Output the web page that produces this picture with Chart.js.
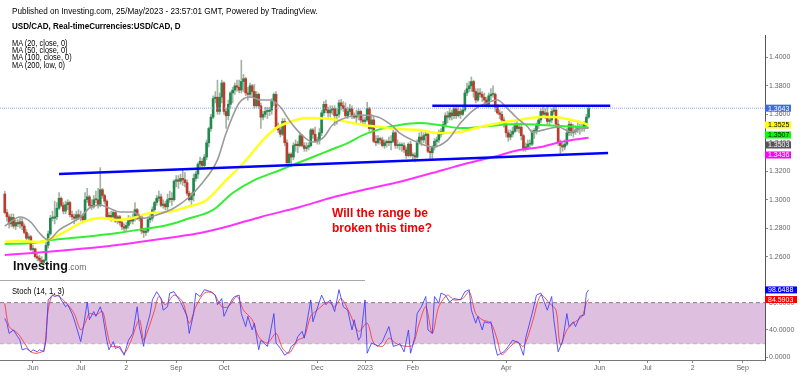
<!DOCTYPE html>
<html>
<head>
<meta charset="utf-8">
<script src="https://cdn.jsdelivr.net/npm/chart.js@4.4.1/dist/chart.umd.min.js"></script>
<style>
html,body{margin:0;padding:0;background:#fff;}
body{width:800px;height:376px;position:relative;overflow:hidden;font-family:"Liberation Sans",Arial,Helvetica,sans-serif;}
.t{position:absolute;white-space:nowrap;transform-origin:0 0;color:#000;}
canvas{position:absolute;left:0;}
</style>
</head>
<body>
<canvas id="priceChart" width="800" height="281" style="top:0"></canvas>
<canvas id="stochChart" width="800" height="95" style="top:281px"></canvas>
<div style="position:absolute;left:0;top:280px;width:365px;height:1px;background:#a8a8a8"></div>
<div class="t" style="left:12px;top:5px;font-size:9.5px;line-height:11px;transform:scaleX(0.857)">Published on Investing.com, 25/May/2023 - 23:57:01 GMT, Powered by TradingView.</div>
<div class="t" style="left:12px;top:19.5px;font-size:9.5px;line-height:11px;font-weight:bold;transform:scaleX(0.845)">USD/CAD, Real-timeCurrencies:USD/CAD, D</div>
<div class="t" style="left:12px;top:39.5px;font-size:8.5px;line-height:7.4px;transform:scaleX(0.87)">MA (20, close, 0)<br>MA (50, close, 0)<br>MA (100, close, 0)<br>MA (200, low, 0)</div>
<div class="t" style="left:13px;top:257px;line-height:16px"><span style="font-size:12.5px;font-weight:bold;color:#111">Investing</span><span style="font-size:8.5px;color:#666">.com</span></div>
<div class="t" style="left:332px;top:206px;font-size:12px;line-height:15px;font-weight:bold;color:#f00000">Will the range be<br>broken this time?</div>
<div class="t" style="left:12px;top:285.5px;font-size:9px;line-height:10px;transform:scaleX(0.85)">Stoch (14, 1, 3)</div>
<script>
// ---------- data (bar index 0 = 13 May 2022 ... 269 = 25 May 2023, trading days) ----------
const opens = [
1.3040,1.2910,1.2880,1.2830,1.2875,1.2815,1.2840,1.2830,1.2845,1.2815,
1.2770,1.2730,1.2740,1.2650,1.2655,1.2600,1.2590,1.2575,1.2560,1.2575,
1.2680,1.2760,1.2870,1.2870,1.2880,1.2940,1.3010,1.2960,1.2920,1.2965,
1.2980,1.2895,1.2880,1.2870,1.2895,1.2875,1.2885,1.2860,1.3000,1.3020,
1.2960,1.2950,1.3000,1.3000,1.2960,1.3070,1.3030,1.2990,1.2880,1.2890,
1.2880,1.2910,1.2850,1.2880,1.2840,1.2810,1.2800,1.2820,1.2860,1.2850,
1.2870,1.2930,1.2870,1.2880,1.2780,1.2770,1.2780,1.2860,1.2870,1.2930,
1.2980,1.3010,1.3020,1.2960,1.2970,1.2950,1.3000,1.3010,1.3000,1.3130,
1.3140,1.3130,1.3150,1.3140,1.3120,1.3045,1.3000,1.3030,1.3150,1.3180,
1.3250,1.3270,1.3240,1.3300,1.3400,1.3500,1.3580,1.3710,1.3720,1.3620,
1.3720,1.3820,1.3620,1.3590,1.3670,1.3750,1.3770,1.3800,1.3790,1.3770,
1.3830,1.3850,1.3750,1.3740,1.3800,1.3760,1.3660,1.3740,1.3660,1.3580,
1.3600,1.3620,1.3620,1.3630,1.3690,1.3740,1.3510,1.3490,1.3460,1.3550,
1.3400,1.3260,1.3320,1.3300,1.3380,1.3390,1.3380,1.3450,1.3380,1.3360,
1.3370,1.3380,1.3490,1.3460,1.3410,1.3420,1.3470,1.3610,1.3670,1.3630,
1.3610,1.3630,1.3640,1.3590,1.3600,1.3680,1.3660,1.3640,1.3590,1.3620,
1.3640,1.3590,1.3580,1.3590,1.3620,1.3560,1.3550,1.3560,1.3640,1.3500,
1.3560,1.3410,1.3400,1.3430,1.3420,1.3380,1.3400,1.3410,1.3400,1.3410,
1.3470,1.3380,1.3380,1.3380,1.3380,1.3350,1.3310,1.3390,1.3310,1.3310,
1.3300,1.3400,1.3440,1.3420,1.3450,1.3460,1.3340,1.3330,1.3370,1.3410,
1.3420,1.3460,1.3480,1.3530,1.3590,1.3580,1.3610,1.3590,1.3640,1.3590,
1.3620,1.3600,1.3630,1.3750,1.3780,1.3800,1.3830,1.3760,1.3700,1.3750,
1.3740,1.3720,1.3700,1.3670,1.3730,1.3740,1.3740,1.3650,1.3610,1.3600,
1.3560,1.3530,1.3470,1.3440,1.3460,1.3480,1.3520,1.3500,1.3510,1.3450,
1.3360,1.3370,1.3390,1.3390,1.3480,1.3480,1.3520,1.3560,1.3620,1.3600,
1.3610,1.3550,1.3560,1.3620,1.3630,1.3530,1.3400,1.3380,1.3370,1.3390,
1.3470,1.3530,1.3470,1.3480,1.3490,1.3510,1.3500,1.3510,1.3530,1.3580];
const highs = [
1.3060,1.2930,1.2895,1.2900,1.2900,1.2860,1.2860,1.2870,1.2870,1.2830,
1.2790,1.2760,1.2750,1.2680,1.2660,1.2620,1.2610,1.2600,1.2580,1.2700,
1.2780,1.2890,1.2920,1.2990,1.2980,1.3050,1.3020,1.2980,1.2990,1.3000,
1.2990,1.2920,1.2900,1.2920,1.2930,1.2920,1.2900,1.3050,1.3080,1.3030,
1.3000,1.3030,1.3060,1.3080,1.3225,1.3080,1.3040,1.3000,1.2910,1.2920,
1.2930,1.2920,1.2890,1.2890,1.2860,1.2830,1.2840,1.2890,1.2880,1.2900,
1.2980,1.2940,1.2900,1.2890,1.2800,1.2800,1.2880,1.2900,1.2950,1.2990,
1.3030,1.3060,1.3040,1.3000,1.2990,1.3040,1.3060,1.3050,1.3140,1.3170,
1.3170,1.3180,1.3210,1.3190,1.3140,1.3060,1.3050,1.3180,1.3200,1.3260,
1.3300,1.3290,1.3320,1.3420,1.3510,1.3600,1.3730,1.3760,1.3840,1.3750,
1.3840,1.3830,1.3640,1.3700,1.3760,1.3790,1.3820,1.3840,1.3840,1.3980,
1.3880,1.3860,1.3790,1.3820,1.3810,1.3810,1.3760,1.3750,1.3680,1.3620,
1.3650,1.3650,1.3650,1.3710,1.3750,1.3760,1.3540,1.3520,1.3570,1.3570,
1.3420,1.3330,1.3330,1.3400,1.3420,1.3410,1.3470,1.3460,1.3400,1.3400,
1.3400,1.3500,1.3500,1.3510,1.3440,1.3500,1.3630,1.3690,1.3700,1.3650,
1.3660,1.3660,1.3660,1.3640,1.3700,1.3705,1.3690,1.3680,1.3650,1.3670,
1.3660,1.3610,1.3630,1.3640,1.3630,1.3590,1.3580,1.3685,1.3650,1.3600,
1.3590,1.3450,1.3450,1.3440,1.3440,1.3420,1.3420,1.3440,1.3450,1.3490,
1.3480,1.3420,1.3400,1.3400,1.3400,1.3370,1.3400,1.3410,1.3330,1.3330,
1.3420,1.3470,1.3480,1.3470,1.3480,1.3470,1.3360,1.3380,1.3430,1.3440,
1.3490,1.3500,1.3550,1.3610,1.3620,1.3640,1.3630,1.3660,1.3650,1.3650,
1.3640,1.3650,1.3770,1.3820,1.3830,1.3862,1.3840,1.3780,1.3780,1.3780,
1.3760,1.3750,1.3720,1.3750,1.3780,1.3800,1.3750,1.3670,1.3630,1.3620,
1.3580,1.3540,1.3490,1.3490,1.3510,1.3540,1.3550,1.3530,1.3540,1.3460,
1.3400,1.3420,1.3420,1.3490,1.3500,1.3540,1.3580,1.3640,1.3660,1.3640,
1.3660,1.3580,1.3640,1.3660,1.3650,1.3560,1.3420,1.3400,1.3420,1.3500,
1.3550,1.3540,1.3530,1.3520,1.3540,1.3530,1.3530,1.3550,1.3600,1.3660];
const lows = [
1.2900,1.2850,1.2800,1.2810,1.2800,1.2790,1.2810,1.2800,1.2790,1.2760,
1.2720,1.2700,1.2640,1.2620,1.2590,1.2570,1.2560,1.2550,1.2540,1.2570,
1.2660,1.2750,1.2850,1.2830,1.2860,1.2930,1.2950,1.2900,1.2900,1.2930,
1.2880,1.2860,1.2830,1.2850,1.2860,1.2850,1.2840,1.2850,1.2980,1.2950,
1.2930,1.2940,1.2980,1.2940,1.2950,1.3010,1.2970,1.2870,1.2860,1.2850,
1.2860,1.2840,1.2830,1.2820,1.2790,1.2780,1.2780,1.2800,1.2830,1.2830,
1.2850,1.2860,1.2850,1.2760,1.2735,1.2750,1.2770,1.2840,1.2850,1.2910,
1.2960,1.2990,1.2950,1.2940,1.2930,1.2930,1.2980,1.2960,1.2990,1.3090,
1.3080,1.3110,1.3100,1.3090,1.3030,1.2990,1.2960,1.2990,1.3130,1.3150,
1.3220,1.3220,1.3230,1.3280,1.3370,1.3480,1.3570,1.3680,1.3600,1.3600,
1.3680,1.3600,1.3500,1.3560,1.3640,1.3680,1.3740,1.3760,1.3750,1.3750,
1.3760,1.3730,1.3700,1.3720,1.3720,1.3640,1.3650,1.3640,1.3500,1.3560,
1.3580,1.3570,1.3590,1.3600,1.3660,1.3500,1.3470,1.3440,1.3450,1.3380,
1.3240,1.3250,1.3230,1.3280,1.3340,1.3330,1.3370,1.3370,1.3340,1.3340,
1.3350,1.3370,1.3430,1.3400,1.3390,1.3390,1.3450,1.3590,1.3610,1.3580,
1.3580,1.3600,1.3520,1.3530,1.3580,1.3630,1.3620,1.3580,1.3570,1.3600,
1.3570,1.3570,1.3540,1.3560,1.3540,1.3520,1.3530,1.3550,1.3480,1.3490,
1.3400,1.3380,1.3390,1.3390,1.3370,1.3360,1.3370,1.3380,1.3350,1.3400,
1.3360,1.3360,1.3350,1.3340,1.3330,1.3290,1.3300,1.3300,1.3280,1.3265,
1.3290,1.3390,1.3380,1.3400,1.3390,1.3330,1.3280,1.3290,1.3350,1.3370,
1.3400,1.3440,1.3460,1.3510,1.3540,1.3560,1.3560,1.3570,1.3570,1.3580,
1.3570,1.3590,1.3620,1.3730,1.3760,1.3760,1.3720,1.3680,1.3690,1.3720,
1.3690,1.3680,1.3650,1.3650,1.3700,1.3720,1.3620,1.3600,1.3570,1.3540,
1.3510,1.3440,1.3410,1.3420,1.3440,1.3470,1.3480,1.3470,1.3420,1.3340,
1.3340,1.3350,1.3360,1.3380,1.3430,1.3460,1.3500,1.3540,1.3590,1.3570,
1.3520,1.3520,1.3540,1.3600,1.3510,1.3380,1.3320,1.3340,1.3350,1.3380,
1.3450,1.3450,1.3440,1.3460,1.3470,1.3460,1.3480,1.3480,1.3510,1.3570];
const closes = [
1.2910,1.2880,1.2830,1.2875,1.2815,1.2840,1.2830,1.2845,1.2815,1.2770,
1.2730,1.2740,1.2650,1.2655,1.2600,1.2590,1.2575,1.2560,1.2575,1.2680,
1.2760,1.2870,1.2870,1.2880,1.2940,1.3010,1.2960,1.2920,1.2965,1.2980,
1.2895,1.2880,1.2870,1.2895,1.2875,1.2885,1.2860,1.3000,1.3020,1.2960,
1.2950,1.3000,1.3000,1.2960,1.3070,1.3030,1.2990,1.2880,1.2890,1.2880,
1.2910,1.2850,1.2880,1.2840,1.2810,1.2800,1.2820,1.2860,1.2850,1.2870,
1.2930,1.2870,1.2880,1.2780,1.2770,1.2780,1.2860,1.2870,1.2930,1.2980,
1.3010,1.3020,1.2960,1.2970,1.2950,1.3000,1.3010,1.3000,1.3130,1.3140,
1.3130,1.3150,1.3140,1.3120,1.3045,1.3000,1.3030,1.3150,1.3180,1.3250,
1.3270,1.3240,1.3300,1.3400,1.3500,1.3580,1.3710,1.3720,1.3620,1.3720,
1.3820,1.3620,1.3590,1.3670,1.3750,1.3770,1.3800,1.3790,1.3770,1.3830,
1.3850,1.3750,1.3740,1.3800,1.3760,1.3660,1.3740,1.3660,1.3580,1.3600,
1.3620,1.3620,1.3630,1.3690,1.3740,1.3510,1.3490,1.3460,1.3550,1.3400,
1.3260,1.3320,1.3300,1.3380,1.3390,1.3380,1.3450,1.3380,1.3360,1.3370,
1.3380,1.3490,1.3460,1.3410,1.3420,1.3470,1.3610,1.3670,1.3630,1.3610,
1.3630,1.3640,1.3590,1.3600,1.3680,1.3660,1.3640,1.3590,1.3620,1.3640,
1.3590,1.3580,1.3590,1.3620,1.3560,1.3550,1.3560,1.3640,1.3500,1.3560,
1.3410,1.3400,1.3430,1.3420,1.3380,1.3400,1.3410,1.3400,1.3410,1.3470,
1.3380,1.3380,1.3380,1.3380,1.3350,1.3310,1.3390,1.3310,1.3310,1.3300,
1.3400,1.3440,1.3420,1.3450,1.3460,1.3340,1.3330,1.3370,1.3410,1.3420,
1.3460,1.3480,1.3530,1.3590,1.3580,1.3610,1.3590,1.3640,1.3590,1.3620,
1.3600,1.3630,1.3750,1.3780,1.3800,1.3830,1.3760,1.3700,1.3750,1.3740,
1.3720,1.3700,1.3670,1.3730,1.3740,1.3740,1.3650,1.3610,1.3600,1.3560,
1.3530,1.3470,1.3440,1.3460,1.3480,1.3520,1.3500,1.3510,1.3450,1.3360,
1.3370,1.3390,1.3390,1.3480,1.3480,1.3520,1.3560,1.3620,1.3600,1.3610,
1.3550,1.3560,1.3620,1.3630,1.3530,1.3400,1.3380,1.3370,1.3390,1.3470,
1.3530,1.3470,1.3480,1.3490,1.3510,1.3500,1.3510,1.3530,1.3580,1.3643];

// moving averages (bar index, value)
const ma20Bars = [0,7,12,16,20,25,35,39,44,48,53,59,64,70,78,85,91,98,102,108,113,118,122,127,131,136,142,147,151,158,164,172,178,182,191,197,204,210,216,222,227,231,236,241,243,248,255,261,265,269];
const ma20Vals = [1.2815,1.2879,1.2843,1.2766,1.2717,1.2787,1.2879,1.2942,1.2963,1.2942,1.2914,1.2914,1.2871,1.2893,1.2942,1.3019,1.3117,1.3280,1.3468,1.3679,1.3721,1.3700,1.3700,1.3651,1.3560,1.3468,1.3405,1.3440,1.3525,1.3581,1.3595,1.3581,1.3525,1.3468,1.3398,1.3370,1.3419,1.3539,1.3630,1.3679,1.3700,1.3651,1.3574,1.3511,1.3475,1.3489,1.3511,1.3475,1.3500,1.3503];
const ma50Bars = [0,7,16,22,29,36,44,52,59,67,75,84,93,102,110,119,125,131,139,150,158,165,173,182,191,200,210,219,228,237,247,253,259,265,269];
const ma50Vals = [1.2703,1.2710,1.2703,1.2731,1.2787,1.2843,1.2871,1.2857,1.2871,1.2907,1.2914,1.2949,1.2998,1.3138,1.3258,1.3419,1.3503,1.3545,1.3574,1.3567,1.3546,1.3525,1.3511,1.3496,1.3489,1.3468,1.3475,1.3511,1.3539,1.3560,1.3581,1.3581,1.3567,1.3546,1.3525];
const ma100Bars = [0,13,21,36,52,64,75,84,96,105,115,127,135,142,150,158,165,173,182,191,200,210,219,228,237,247,256,269];
const ma100Vals = [1.2689,1.2696,1.2717,1.2738,1.2766,1.2794,1.2822,1.2864,1.2928,1.3047,1.3138,1.3209,1.3258,1.3300,1.3349,1.3398,1.3454,1.3496,1.3525,1.3538,1.3525,1.3503,1.3511,1.3525,1.3532,1.3525,1.3518,1.3507];
const ma200Bars = [0,13,29,44,59,75,90,105,118,136,150,165,183,202,213,225,237,247,256,269];
const ma200Vals = [1.2612,1.2626,1.2647,1.2668,1.2696,1.2731,1.2766,1.2822,1.2879,1.2949,1.3012,1.3068,1.3130,1.3209,1.3256,1.3300,1.3349,1.3370,1.3405,1.3436];

// drawn trend lines (bar index, price)
const supportBars = [25, 278];
const supportPrices = [1.3180, 1.3328];
const resistBars = [197, 279];
const resistPrices = [1.3660, 1.3660];
const lastPrice = 1.3643;

// Stochastic (14,1,3)
const kBars = [0,1,2,4,6,7,8,10,12,13,15,16,18,19,20,22,23,25,26,28,29,31,32,35,36,38,39,41,42,44,45,47,48,50,51,53,55,57,59,61,62,64,65,67,68,70,72,73,75,76,78,79,81,82,84,85,87,88,90,92,95,97,98,100,101,103,105,106,108,109,111,112,114,115,117,118,121,122,124,125,127,129,131,132,134,135,137,138,141,142,144,146,148,150,152,154,156,158,160,161,163,164,166,167,169,171,172,174,177,179,181,182,184,186,187,189,190,192,194,195,197,198,200,201,203,205,207,210,212,214,215,217,218,220,221,223,224,226,227,230,232,234,237,239,240,243,245,247,250,252,253,255,257,259,260,262,263,265,267,268,269];
const kVals = [57,50,35,40,30,25,11,13,8,11,8,11,8,25,84,91,89,91,84,74,77,64,55,23,40,81,55,67,60,74,64,25,11,23,13,16,3,25,35,74,45,16,40,64,84,96,86,69,74,94,96,91,81,74,60,35,64,94,89,99,96,91,77,86,60,74,86,89,91,64,45,60,40,50,11,25,16,30,64,21,13,3,8,16,21,30,38,28,84,52,72,91,77,84,67,99,74,69,40,55,25,30,84,6,21,18,16,23,45,16,18,20,8,40,6,30,64,74,89,40,35,89,79,94,91,81,86,84,96,99,69,50,60,40,52,50,52,16,3,8,16,25,21,3,28,64,91,94,69,89,55,8,23,64,45,52,45,60,62,94,98.6488];
const dBars = [0,2,6,9,12,15,18,20,22,25,29,32,35,37,39,42,45,47,49,52,55,58,62,64,66,69,71,74,78,82,85,88,92,96,100,103,107,110,114,117,121,125,128,131,135,138,141,145,149,152,155,159,163,167,170,174,177,180,182,185,188,191,194,197,200,204,207,211,214,217,220,224,227,229,233,236,239,243,247,251,254,256,259,262,266,268,269];
const dVals = [79,45,35,21,8,6,11,69,91,89,77,64,40,50,64,62,67,40,16,16,6,23,55,25,40,69,89,77,91,81,50,74,94,94,74,74,89,69,55,30,21,35,13,6,25,30,60,72,81,74,86,64,38,50,21,16,28,21,18,16,18,50,74,35,74,91,84,86,96,64,55,50,25,4,16,23,16,50,91,79,69,18,40,50,60,80,84.5903];
const stochBand = [20, 80];

// axes
const xTickBars = [13,35,56,79,101,144,166,188,231,274,296,317,340];
const xTickLabels = ['Jun','Jul','2','Sep','Oct','Dec','2023','Feb','Apr','Jun','Jul','2','Sep'];
const priceTicks = [1.26,1.28,1.30,1.32,1.34,1.36,1.38,1.40];
const stochTicks = [0,40,80];

// last-value badges
const priceBadgeVals = [1.3643, 1.3525, 1.3507, 1.3503, 1.3436];
const priceBadgeBg = ['#4169e1','#ffff00','#00ff00','#555555','#ff00ff'];
const priceBadgeFg = ['#ffffff','#000000','#000000','#ffffff','#ffffff'];
const stochBadgeVals = [98.6488, 84.5903];
const stochBadgeBg = ['#0000ff','#ff0000'];

// ---------- view ranges ----------
const X_MIN = -2.2, X_MAX = 350.3;
const P_MIN = 1.2429, P_MAX = 1.4157;
const S_MIN = -3.95, S_MAX = 111.7;

Chart.defaults.font.family = '"Liberation Sans", Arial, sans-serif';
Chart.defaults.color = '#666';

const pts = (xs, ys) => xs.map((x, i) => ({x, y: ys[i]}));
const upCol = '#1f8a4c', dnCol = '#c0392b';

const badgePlugin = {
  id: 'badges',
  afterDraw(chart, args, o) {
    const {ctx, chartArea} = chart;
    const sc = chart.scales.y;
    let prevBottom = -1e9;
    ctx.save();
    ctx.font = '7px "Liberation Sans", Arial, sans-serif';
    ctx.textBaseline = 'middle';
    ctx.textAlign = 'left';
    o.vals.forEach((v, i) => {
      let cy = sc.getPixelForValue(v);
      const h = o.h;
      if (cy - h / 2 < prevBottom + o.gap) cy = prevBottom + o.gap + h / 2;
      prevBottom = cy + h / 2;
      ctx.fillStyle = o.bg[i];
      ctx.fillRect(chartArea.right, cy - h / 2, o.w, h);
      ctx.fillStyle = o.fg[i];
      ctx.fillText(v.toFixed(4), chartArea.right + 3, cy + 0.5);
    });
    ctx.restore();
  }
};

new Chart(document.getElementById('priceChart'), {
  type: 'bar',
  data: {
    datasets: [
      { type: 'line', label: 'support', data: pts(supportBars, supportPrices), borderColor: '#0000ff', borderWidth: 2.5, pointRadius: 0, order: 1 },
      { type: 'line', label: 'resistance', data: pts(resistBars, resistPrices), borderColor: '#0000ff', borderWidth: 2.5, pointRadius: 0, order: 1 },
      { type: 'line', label: 'MA20', data: pts(ma20Bars, ma20Vals), borderColor: '#9a9a9a', borderWidth: 1.6, pointRadius: 0, cubicInterpolationMode: 'monotone', order: 2 },
      { type: 'line', label: 'MA50', data: pts(ma50Bars, ma50Vals), borderColor: '#ffff20', borderWidth: 2.5, pointRadius: 0, cubicInterpolationMode: 'monotone', order: 2 },
      { type: 'line', label: 'MA100', data: pts(ma100Bars, ma100Vals), borderColor: '#33ee33', borderWidth: 2, pointRadius: 0, cubicInterpolationMode: 'monotone', order: 2 },
      { type: 'line', label: 'MA200', data: pts(ma200Bars, ma200Vals), borderColor: '#ff33ff', borderWidth: 2, pointRadius: 0, cubicInterpolationMode: 'monotone', order: 2 },
      { type: 'line', label: 'last', data: [{x: X_MIN, y: lastPrice}, {x: X_MAX, y: lastPrice}], borderColor: '#8fa6ee', borderWidth: 1, borderDash: [1, 1], pointRadius: 0, order: 3 },
      { type: 'bar', label: 'bodies', data: opens.map((o, i) => ({x: i, y: [o, closes[i]]})),
        backgroundColor: opens.map((o, i) => closes[i] >= o ? upCol : dnCol),
        barThickness: 2, minBarLength: 1, grouped: false, order: 4 },
      { type: 'bar', label: 'wicks', data: lows.map((l, i) => ({x: i, y: [l, highs[i]]})),
        backgroundColor: '#a3b3a3', barThickness: 1, grouped: false, order: 5 }
    ]
  },
  options: {
    responsive: false, animation: false, events: [],
    layout: { padding: { top: 35, bottom: 0, left: 0, right: 0 } },
    plugins: { legend: { display: false }, tooltip: { enabled: false },
      badges: { vals: priceBadgeVals, bg: priceBadgeBg, fg: priceBadgeFg, h: 7, gap: 3, w: 26 } },
    scales: {
      x: { type: 'linear', min: X_MIN, max: X_MAX, offset: false, display: false },
      y: { position: 'right', min: P_MIN, max: P_MAX,
        afterBuildTicks: s => { s.ticks = priceTicks.map(v => ({value: v})); },
        afterFit: s => { s.width = 35; s.paddingTop = 0; s.paddingBottom = 0; },
        ticks: { font: { size: 7 }, color: '#666', padding: 1, callback: v => Number(v).toFixed(4) },
        grid: { drawOnChartArea: false, drawTicks: true, tickLength: 3, color: '#888' },
        border: { display: true, color: '#555', width: 1 } }
    }
  },
  plugins: [badgePlugin]
});

new Chart(document.getElementById('stochChart'), {
  type: 'line',
  data: {
    datasets: [
      { label: 'band80', data: [{x: X_MIN, y: stochBand[1]}, {x: X_MAX, y: stochBand[1]}], borderColor: '#8a7a8a', borderWidth: 1, borderDash: [4, 3], pointRadius: 0, fill: '+1', backgroundColor: '#dfbfdf', order: 3 },
      { label: 'band20', data: [{x: X_MIN, y: stochBand[0]}, {x: X_MAX, y: stochBand[0]}], borderColor: '#8a7a8a', borderWidth: 1, borderDash: [4, 3], pointRadius: 0, fill: false, order: 3 },
      { label: '%D', data: pts(dBars, dVals), borderColor: 'rgba(255,60,60,0.9)', borderWidth: 1, pointRadius: 0, tension: 0.3, fill: false, order: 2 },
      { label: '%K', data: pts(kBars, kVals), borderColor: 'rgba(60,60,255,0.85)', borderWidth: 1, pointRadius: 0, tension: 0, fill: false, order: 1 }
    ]
  },
  options: {
    responsive: false, animation: false, events: [],
    layout: { padding: 0 },
    plugins: { legend: { display: false }, tooltip: { enabled: false },
      badges: { vals: stochBadgeVals, bg: stochBadgeBg, fg: ['#ffffff','#ffffff'], h: 7, gap: 1, w: 32 } },
    scales: {
      x: { type: 'linear', min: X_MIN, max: X_MAX, offset: false, position: 'bottom',
        afterBuildTicks: s => { s.ticks = xTickBars.map(v => ({value: v})); },
        afterFit: s => { s.height = 16; s.paddingLeft = 0; s.paddingRight = 0; },
        ticks: { autoSkip: false, maxRotation: 0, font: { size: 7 }, color: '#666', padding: 1,
          callback: (v, i) => xTickLabels[i] },
        grid: { drawOnChartArea: false, drawTicks: true, tickLength: 3, color: '#888' },
        border: { display: true, color: '#777' } },
      y: { position: 'right', min: S_MIN, max: S_MAX,
        afterBuildTicks: s => { s.ticks = stochTicks.map(v => ({value: v})); },
        afterFit: s => { s.width = 35; s.paddingTop = 0; s.paddingBottom = 0; },
        ticks: { font: { size: 7 }, color: '#666', padding: 1, callback: v => Number(v).toFixed(4) },
        grid: { drawOnChartArea: false, drawTicks: true, tickLength: 3, color: '#888' },
        border: { display: true, color: '#555', width: 1 } }
    }
  },
  plugins: [badgePlugin]
});
</script>
</body>
</html>
